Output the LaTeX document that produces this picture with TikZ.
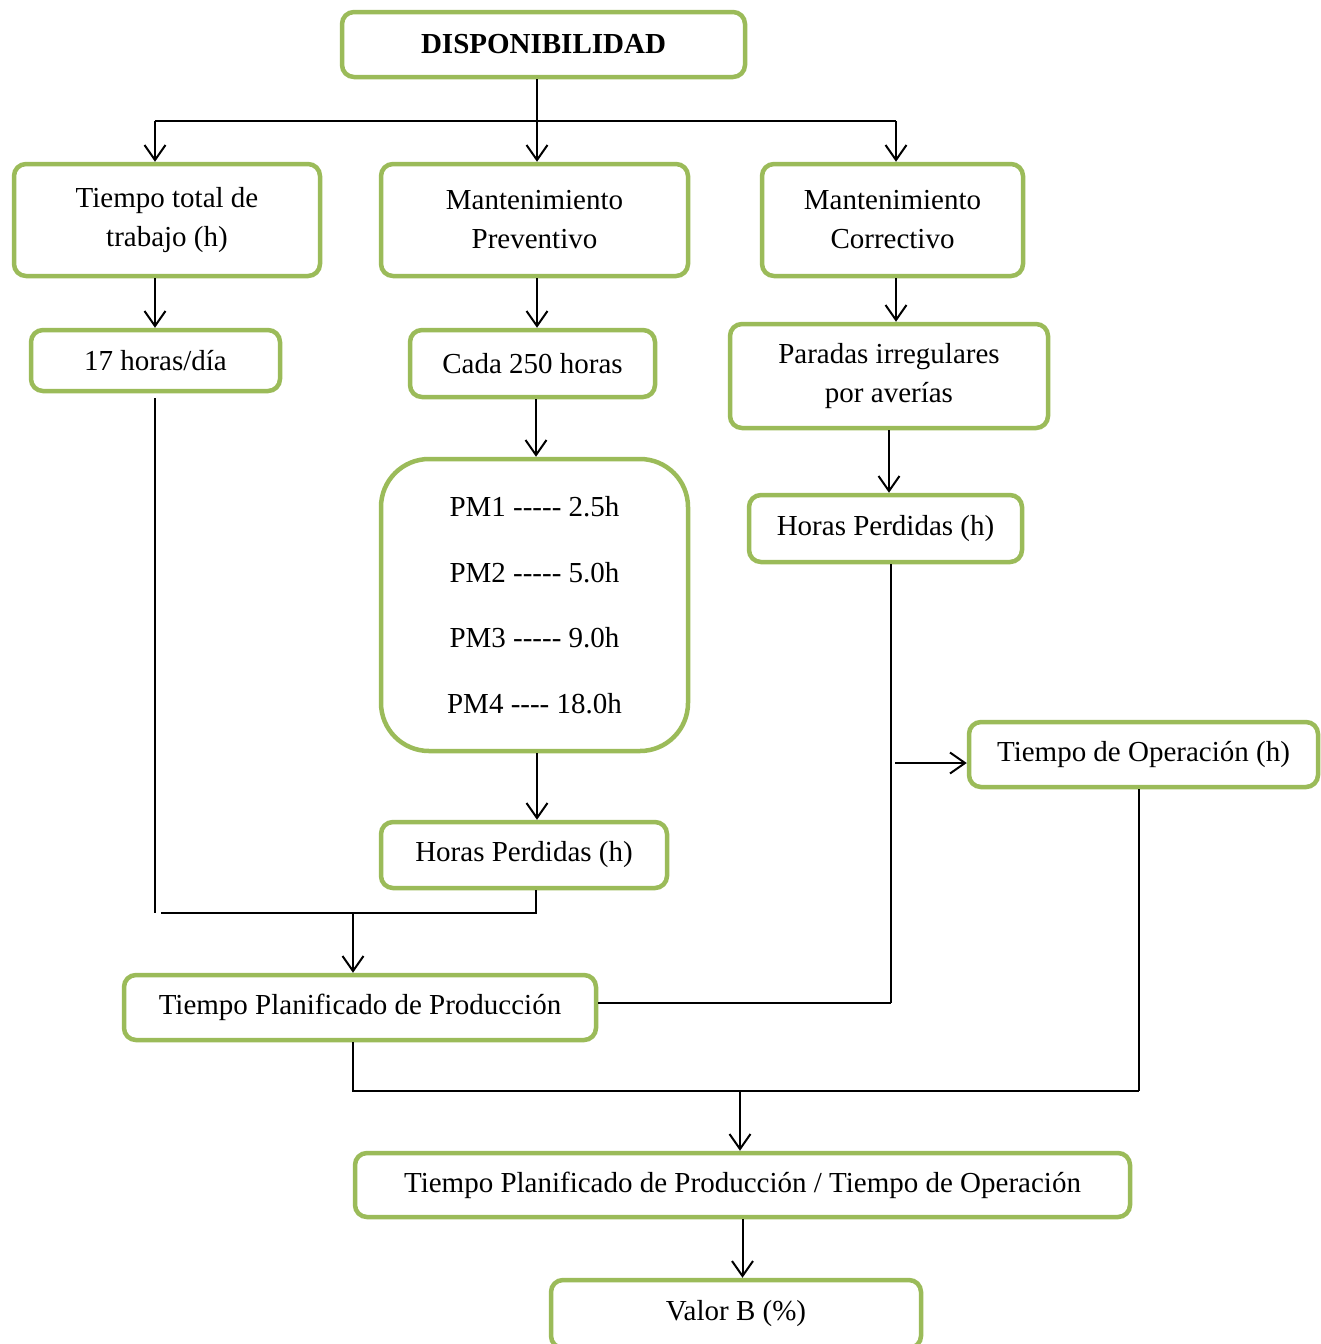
\documentclass[tikz,border=0pt]{standalone}
\usepackage{fontspec}
\setmainfont{Liberation Serif}
\usepackage{tikz}
\usetikzlibrary{arrows.meta}
\definecolor{boxgreen}{RGB}{155,187,89}

\begin{document}
\begin{tikzpicture}[x=1pt,y=-1pt,every node/.style={font=\fontsize{29}{39}\selectfont},
  box/.style={draw=boxgreen,line width=4.5pt,rounded corners=12pt,fill=white,align=center,inner sep=0pt},
  lin/.style={line width=2pt},
  arr/.style={line width=2pt,-{Straight Barb[length=15pt,width=21pt,line width=2pt]}}]
  \useasboundingbox (0,0) rectangle (1321,1344);
  % boxes
  \node[box,minimum width=403pt,minimum height=65pt] (disp) at (543.5,44.5) {\textbf{DISPONIBILIDAD}};
  \node[box,minimum width=306pt,minimum height=112pt] (ttt) at (167,220) {Tiempo total de\\trabajo (h)};
  \node[box,minimum width=307pt,minimum height=112pt] (mp) at (534.5,220) {Mantenimiento\\Preventivo};
  \node[box,minimum width=261pt,minimum height=112pt] (mc) at (892.5,220) {Mantenimiento\\Correctivo};
  \node[box,minimum width=249pt,minimum height=61pt] (h17) at (155.5,360.5) {17 horas/día};
  \node[box,minimum width=245pt,minimum height=67pt] (c250) at (532.5,363.5) {Cada 250 horas};
  \node[box,minimum width=318pt,minimum height=104pt] (par) at (889,376) {Paradas irregulares\\por averías};
  \node[box,rounded corners=48pt,minimum width=307pt,minimum height=292pt] (pm) at (534.5,605)
    {PM1 -{}-{}-{}-{}- 2.5h\\[26.5pt]PM2 -{}-{}-{}-{}- 5.0h\\[26.5pt]PM3 -{}-{}-{}-{}- 9.0h\\[26.5pt]PM4 -{}-{}-{}- 18.0h};
  \node[box,minimum width=286pt,minimum height=66pt] (hpm) at (524,855) {Horas Perdidas (h)};
  \node[box,minimum width=273pt,minimum height=67pt] (hpc) at (885.5,528.5) {Horas Perdidas (h)};
  \node[box,minimum width=349pt,minimum height=65pt] (top) at (1143.5,754.5) {Tiempo de Operación (h)};
  \node[box,minimum width=472pt,minimum height=65pt] (tpp) at (360,1007.5) {Tiempo Planificado de Producción};
  \node[box,minimum width=775pt,minimum height=64pt] (ratio) at (742.5,1185) {Tiempo Planificado de Producción / Tiempo de Operación};
  \node[box,minimum width=370pt,minimum height=68pt] (valb) at (736,1314) {Valor B (\%)};
  % junctions
  \coordinate (j0) at (537,121);
  \coordinate (jl) at (155,121);
  \coordinate (jr) at (896,121);
  \coordinate (jb1) at (155,913);
  \coordinate (jb2) at (536,913);
  \coordinate (jb3) at (353,913);
  \coordinate (jc) at (891,1003);
  \coordinate (ja) at (895,763);
  \coordinate (jd) at (1139,1091);
  \coordinate (je) at (353,1091);
  \coordinate (jf) at (740,1091);
  % connectors
  \draw[lin] (disp.south -| j0) -- (j0);
  \draw[lin] (jl) -- (jr);
  \draw[arr] (jl) -- (jl |- ttt.north);
  \draw[arr] (j0) -- (j0 |- mp.north);
  \draw[arr] (jr) -- (jr |- mc.north);
  \draw[arr] (jl |- ttt.south) -- (jl |- h17.north);
  \draw[arr] (j0 |- mp.south) -- (j0 |- c250.north);
  \draw[arr] (jr |- mc.south) -- (jr |- par.north);
  \draw[arr] (jb2 |- c250.south) -- (jb2 |- pm.north);
  \draw[arr] (j0 |- pm.south) -- (j0 |- hpm.north);
  \draw[arr] (par.south) -- (par.south |- hpc.north);
  \draw[lin] ([yshift=-5pt]jb1 |- h17.south) -- (jb1);
  \draw[lin] ([xshift=6pt]jb1) -- (jb2) -- (jb2 |- hpm.south);
  \draw[arr] (jb3) -- (jb3 |- tpp.north);
  \draw[lin] (hpc.south -| jc) -- (jc);
  \draw[lin] (tpp.east |- jc) -- (jc);
  \draw[arr] (ja) -- (ja -| top.west);
  \draw[lin] (top.south -| jd) -- (jd);
  \draw[lin] (tpp.south -| je) -- (je) -- (jd);
  \draw[arr] (jf) -- (jf |- ratio.north);
  \draw[arr] (ratio.south) -- (ratio.south |- valb.north);
\end{tikzpicture}
\end{document}
